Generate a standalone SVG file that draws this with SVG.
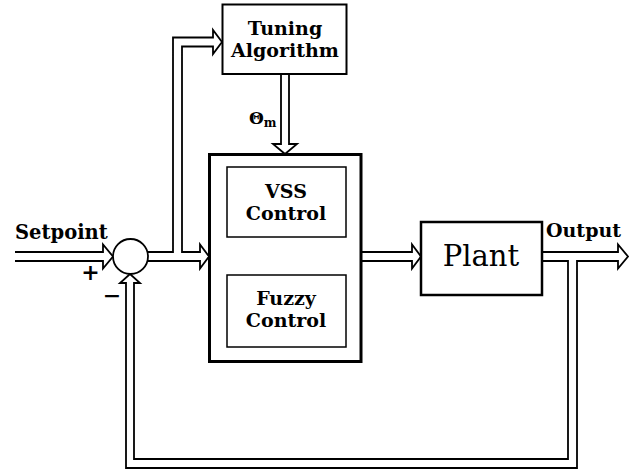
<svg xmlns="http://www.w3.org/2000/svg" width="634" height="473" viewBox="0 0 634 473">
<style>
text{font-family:"DejaVu Serif","Liberation Serif",serif;fill:#000}
.lb{font-weight:bold;font-size:19px}
.c{text-anchor:middle}
.box{fill:#fff;stroke:#000}
.ln{fill:none;stroke:#000;stroke-width:1.8;stroke-linejoin:miter}
</style>
<rect width="634" height="473" fill="#fff"/>
<g id="connectors">
<path class="ln" d="M15,252 H103 V244.5 L113,256.5 L103,268.5 V261 H15"/>
<path class="ln" d="M147.4,252 H173 V37.5 H213 V30 L222,42 L213,54 V46.5 H182 V252 H200 V244.5 L209,256.5 L200,268.5 V261 H147.4"/>
<path class="ln" d="M281,74 V144 H273 L285,154 L297,144 H289 V74"/>
<path class="ln" d="M284,247 H277 L287.5,237 L298,247 H291 V265 H298 L287.5,275 L277,265 H284 Z"/>
<path class="ln" d="M361,252 H412 V244.5 L421,256.5 L412,268.5 V261 H361"/>
<path class="ln" d="M542,252 H618 V244.5 L628,256.5 L618,268.5 V261 H577 V468 H126 V283 H120 L130,274 L140,283 H134 V459 H568 V261 H542"/>
</g>
<g id="sum">
<circle cx="130.5" cy="256.5" r="17.5" fill="#fff" stroke="#000" stroke-width="1.8"/>
<text x="90.5" y="280" class="c" style="font-weight:bold;font-size:22px">+</text>
<text x="112" y="303" class="c" style="font-weight:bold;font-size:22px">−</text>
</g>
<g id="setpoint-label"><text x="15" y="239" class="lb" style="font-size:19.5px">Setpoint</text></g>
<g id="output-label"><text x="546" y="237" class="lb">Output</text></g>
<g id="tuning">
<rect class="box" x="222.5" y="4.5" width="124" height="69.5" stroke-width="2"/>
<text x="285" y="35" class="lb c">Tuning</text>
<text x="285" y="57" class="lb c">Algorithm</text>
</g>
<g id="theta-label"><text x="249" y="124" style="font-weight:bold;font-size:17px">Θ<tspan dy="3" style="font-size:12px">m</tspan></text></g>
<g id="controller">
<rect class="box" x="209.5" y="154.5" width="151.5" height="207" stroke-width="3"/>
</g>
<g id="vss">
<rect class="box" x="227" y="167" width="119" height="70" stroke-width="1.5"/>
<text x="286" y="198" class="lb c">VSS</text>
<text x="286" y="220" class="lb c">Control</text>
</g>
<g id="fuzzy">
<rect class="box" x="227" y="275" width="119" height="72" stroke-width="1.5"/>
<text x="286" y="305" class="lb c">Fuzzy</text>
<text x="286" y="327" class="lb c">Control</text>
</g>
<g id="plant">
<rect class="box" x="421" y="222" width="121" height="73" stroke-width="2.5"/>
<text x="481" y="266" class="c" style="font-size:29px">Plant</text>
</g>
</svg>
